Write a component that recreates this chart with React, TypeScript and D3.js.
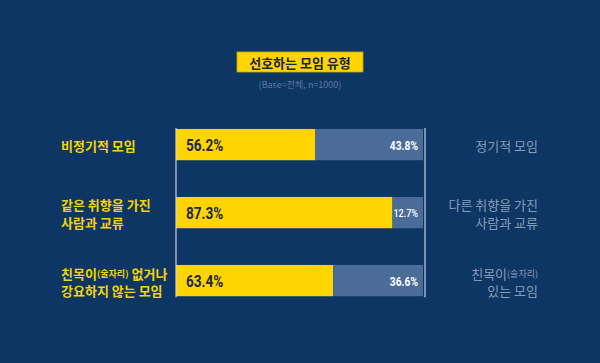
import React, { useEffect, useRef } from "react";
import * as d3 from "d3";

// preference share (%)
const leftLabels = [["비정기적 모임"], ["같은 취향을 가진", "사람과 교류"], ["친목이(술자리) 없거나", "강요하지 않는 모임"]];
const rightLabels = [["정기적 모임"], ["다른 취향을 가진", "사람과 교류"], ["친목이(술자리)", "있는 모임"]];
const leftValues = [56.2, 87.3, 63.4];
const rightValues = [43.8, 12.7, 36.6];
const title = "선호하는 모임 유형";
const subtitle = "(Base=전체, n=1000)";

const W = 600;
const H = 363;
const BG = "#0d3664";
const YELLOW = "#ffd400";
const GREY = "#4b6c98";
const KR = "'Noto Sans CJK KR', 'Noto Sans', sans-serif";
const NUM = "'Roboto', 'Noto Sans', sans-serif";

export default function App() {
  const ref = useRef<SVGSVGElement>(null);

  useEffect(() => {
    document.body.style.margin = "0";
    const svg = d3.select(ref.current);
    svg.selectAll("*").remove();

    svg.append("rect").attr("width", W).attr("height", H).attr("fill", BG);

    const idx = leftValues.map((_, i) => i);
    const x = d3.scaleLinear().domain([0, 100]).range([176, 424]);
    const y = d3
      .scaleBand<number>()
      .domain(idx)
      .range([110.6, 314.6])
      .paddingInner(0.54)
      .paddingOuter(0.27);

    // title box
    svg.append("rect")
      .attr("x", 237).attr("y", 52).attr("width", 126).attr("height", 20)
      .attr("fill", YELLOW).attr("stroke", "#c9a800").attr("stroke-width", 0.8);
    svg.append("text")
      .attr("x", 300).attr("y", 62)
      .attr("text-anchor", "middle").attr("dominant-baseline", "central")
      .attr("font-family", KR).attr("font-weight", 700).attr("font-size", 13)
      .attr("fill", "#17264a")
      .text(title);
    svg.append("text")
      .attr("x", 300).attr("y", 84)
      .attr("text-anchor", "middle").attr("dominant-baseline", "central")
      .attr("font-family", KR).attr("font-size", 9)
      .attr("fill", "#5f789f")
      .text(subtitle);

    const g = svg.append("g");

    // bars
    g.selectAll("rect.left")
      .data(leftValues)
      .join("rect")
      .attr("class", "left")
      .attr("x", x(0))
      .attr("y", (_, i) => y(i)!)
      .attr("width", (d) => x(d) - x(0))
      .attr("height", y.bandwidth())
      .attr("fill", YELLOW);

    g.selectAll("rect.right")
      .data(rightValues)
      .join("rect")
      .attr("class", "right")
      .attr("x", (_, i) => x(leftValues[i]))
      .attr("y", (_, i) => y(i)!)
      .attr("width", (d) => x(100) - x(100 - d) - 1)
      .attr("height", y.bandwidth())
      .attr("fill", GREY);

    // frame lines
    const top = y(0)! - 1;
    const bottom = y(idx.length - 1)! + y.bandwidth() + 1;
    [x(0), x(100) + 1].forEach((lx) => {
      g.append("line")
        .attr("x1", lx).attr("x2", lx).attr("y1", top).attr("y2", bottom)
        .attr("stroke", "#c9d3e0").attr("stroke-width", 1.2);
    });

    // value labels (condensed look via horizontal scale)
    g.selectAll("text.lv")
      .data(leftValues)
      .join("text")
      .attr("class", "lv")
      .attr("transform", (_, i) => `translate(${x(0) + 10},${y(i)! + y.bandwidth() / 2 + 1}) scale(0.8,1)`)
      .attr("dominant-baseline", "central")
      .attr("font-family", NUM).attr("font-weight", 700).attr("font-size", 17)
      .attr("fill", "#1a2a48")
      .text((d) => d.toFixed(1) + "%");

    g.selectAll("text.rv")
      .data(rightValues)
      .join("text")
      .attr("class", "rv")
      .attr("transform", (_, i) => `translate(${x(100) - 6},${y(i)! + y.bandwidth() / 2 + 1}) scale(0.82,1)`)
      .attr("text-anchor", "end")
      .attr("dominant-baseline", "central")
      .attr("font-family", NUM)
      .attr("font-weight", (d) => (d < 20 ? 500 : 700))
      .attr("font-size", (d) => (d < 20 ? 11 : 12.5))
      .attr("fill", "#ffffff")
      .text((d) => d.toFixed(1) + "%");

    // category labels
    const lineH = 18;
    const drawLabels = (labels: string[][], xPos: number, anchor: string, color: string, weight: number) => {
      labels.forEach((lines, i) => {
        const cy = y(i)! + y.bandwidth() / 2 + 1;
        lines.forEach((ln, k) => {
          const ly = cy + (k - (lines.length - 1) / 2) * lineH;
          const t = g.append("text")
            .attr("x", xPos).attr("y", ly)
            .attr("text-anchor", anchor)
            .attr("dominant-baseline", "central")
            .attr("font-family", KR).attr("font-weight", weight).attr("font-size", 13)
            .attr("fill", color);
          const m = ln.match(/^(.*)\((.*)\)(.*)$/);
          if (m) {
            t.append("tspan").text(m[1]);
            t.append("tspan").attr("font-size", 9).text("(" + m[2] + ")");
            t.append("tspan").text(m[3]);
          } else {
            t.text(ln);
          }
        });
      });
    };
    drawLabels(leftLabels, 61, "start", "#f6d400", 700);
    drawLabels(rightLabels, 538, "end", "#8a9bb6", 400);
  }, []);

  return (
    <svg
      ref={ref}
      width={W}
      height={H}
      style={{ position: "absolute", left: 0, top: 0, display: "block" }}
    />
  );
}
